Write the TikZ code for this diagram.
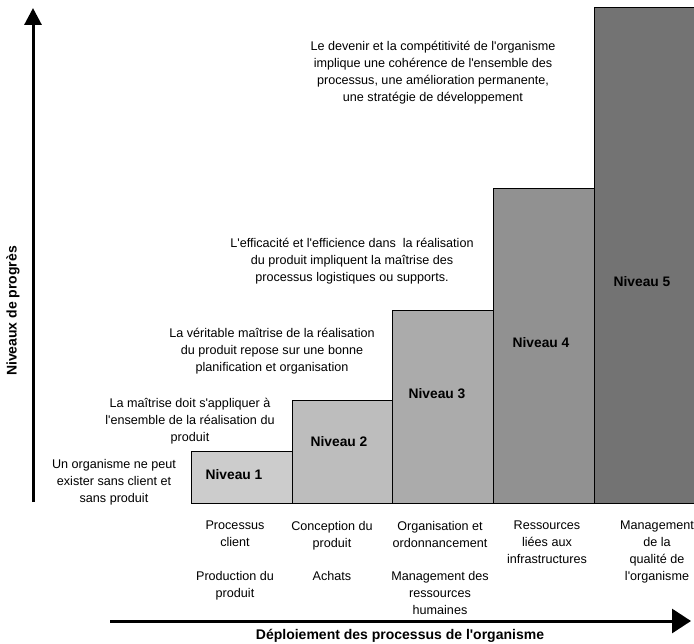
\documentclass[tikz,border=0pt]{standalone}
\usepackage{fontspec}
\setmainfont{Liberation Sans}[Ligatures=TeXOff]
\usetikzlibrary{arrows.meta}
\definecolor{lvlA}{gray}{0.80}
\definecolor{lvlB}{gray}{0.74}
\definecolor{lvlC}{gray}{0.67}
\definecolor{lvlD}{gray}{0.57}
\definecolor{lvlE}{gray}{0.45}
\begin{document}
\begin{tikzpicture}[x=1pt,y=-1pt,
  txt/.style={align=center, font=\fontsize{12.6}{17}\selectfont, inner sep=0pt},
  lvl/.style={font=\fontsize{13.8}{16}\selectfont\bfseries, inner sep=0pt},
  axlabel/.style={font=\fontsize{14}{16}\selectfont\bfseries, inner sep=0pt},
  bar/.style={draw=black, line width=0.7pt},
  axis/.style={line width=3pt},
]
\useasboundingbox (0,0) rectangle (694,644);

% staircase of levels
\path[bar, fill=lvlA] (191,503) rectangle (292,451);
\path[bar, fill=lvlB] (292,503) rectangle (392,400);
\path[bar, fill=lvlC] (392,503) rectangle (493,310);
\path[bar, fill=lvlD] (493,503) rectangle (594,188);
\path[bar, fill=lvlE] (594,503) rectangle (700,7);

\node[lvl] (n1) at (234,475) {Niveau 1};
\node[lvl] (n2) at (339,442) {Niveau 2};
\node[lvl] (n3) at (437,394) {Niveau 3};
\node[lvl] (n4) at (541,343) {Niveau 4};
\node[lvl] (n5) at (642,282) {Niveau 5};

% commentary for each step
\node[txt] (t1) at (114,482) {Un organisme ne peut\\exister sans client et\\sans produit};
\node[txt] (t2) at (190,421) {La maîtrise doit s'appliquer à\\l'ensemble de la réalisation du\\produit};
\node[txt] (t3) at (272,351) {La véritable maîtrise de la réalisation\\du produit repose sur une bonne\\planification et organisation};
\node[txt] (t4) at (352,261) {L'efficacité et l'efficience dans\ \ la réalisation\\du produit impliquent la maîtrise des\\processus logistiques ou supports.};
\node[txt] (t5) at (433,73) {Le devenir et la compétitivité de l'organisme\\implique une cohérence de l'ensemble des\\processus, une amélioration permanente,\\une stratégie de développement};

% processes under each step
\node[txt, anchor=north] (p1a) at (235,521) {Processus\\client};
\node[txt, anchor=north] (p1b) at (235,571) {Production du\\produit};
\node[txt, anchor=north] (p2a) at (332,521) {Conception du\\produit};
\node[txt, anchor=north] (p2b) at (332,571) {Achats};
\node[txt, anchor=north] (p3a) at (440,521) {Organisation et\\ordonnancement};
\node[txt, anchor=north] (p3b) at (440,571) {Management des\\ressources\\humaines};
\node[txt, anchor=north] (p4a) at (547,521) {Ressources\\liées aux\\infrastructures};
\node[txt, anchor=north] (p5a) at (657,521) {Management\\de la\\qualité de\\l'organisme};

% axes
\coordinate (vb) at (33,502);
\coordinate (vt) at (33,8);
\coordinate (hl) at (110,621);
\coordinate (hr) at (691,621);
\draw[axis, -{Triangle[length=17pt,width=17pt]}] (vb) -- (vt);
\draw[axis, -{Triangle[length=19pt,width=24pt]}] (hl) -- (hr);

\node[axlabel, rotate=90] (ylab) at (13,311) {Niveaux de progrès};
\node[axlabel] (xlab) at (400,636) {Déploiement des processus de l'organisme};
\end{tikzpicture}
\end{document}
